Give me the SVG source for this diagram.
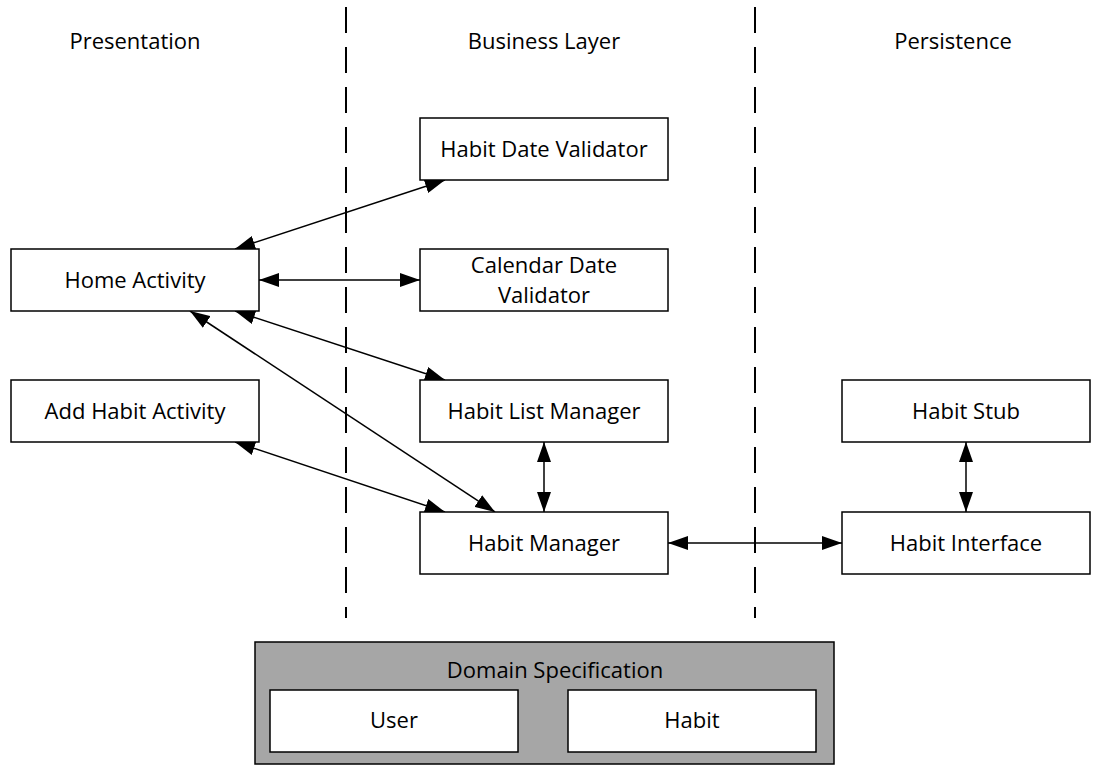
<svg xmlns="http://www.w3.org/2000/svg" width="1102" height="771" viewBox="0 0 1102 771">
<style>
.box{fill:#fff;stroke:#000;stroke-width:1.5}
.t{font-family:"Open Sans","Liberation Sans",sans-serif;font-size:22px;fill:#000;text-anchor:middle;dominant-baseline:central}
.c{stroke:#000;stroke-width:1.5;fill:none;marker-start:url(#a);marker-end:url(#a)}
.d{stroke:#000;stroke-width:2;stroke-dasharray:26 14;fill:none}
</style>
<defs>
<marker id="a" viewBox="0 0 20 14" refX="20" refY="7" markerWidth="20" markerHeight="14" markerUnits="userSpaceOnUse" orient="auto-start-reverse">
<path d="M0,0 L20,7 L0,14 Z" fill="#000"/>
</marker>
</defs>
<rect width="1102" height="771" fill="#fff"/>
<g id="lanes">
<line class="d" x1="346" y1="7" x2="346" y2="618"/>
<line class="d" x1="755" y1="7" x2="755" y2="618"/>
<text class="t" x="135" y="40">Presentation</text>
<text class="t" x="544" y="40">Business Layer</text>
<text class="t" x="953" y="40">Persistence</text>
</g>
<g id="connectors">
<line class="c" x1="235" y1="249" x2="445" y2="180"/>
<line class="c" x1="259" y1="280" x2="420" y2="280"/>
<line class="c" x1="235" y1="311" x2="445" y2="380"/>
<line class="c" x1="190" y1="311" x2="495" y2="512"/>
<line class="c" x1="235" y1="442" x2="445" y2="512"/>
<line class="c" x1="544" y1="442" x2="544" y2="512"/>
<line class="c" x1="668" y1="543" x2="842" y2="543"/>
<line class="c" x1="966" y1="442" x2="966" y2="512"/>
</g>
<g id="habit-date-validator"><rect class="box" x="420" y="118" width="248" height="62"/><text class="t" x="544" y="148">Habit Date Validator</text></g>
<g id="calendar-date-validator"><rect class="box" x="420" y="249" width="248" height="62"/><text class="t" x="544" y="264">Calendar Date</text><text class="t" x="544" y="294">Validator</text></g>
<g id="habit-list-manager"><rect class="box" x="420" y="380" width="248" height="62"/><text class="t" x="544" y="410">Habit List Manager</text></g>
<g id="habit-manager"><rect class="box" x="420" y="512" width="248" height="62"/><text class="t" x="544" y="542">Habit Manager</text></g>
<g id="home-activity"><rect class="box" x="11" y="249" width="248" height="62"/><text class="t" x="135" y="279">Home Activity</text></g>
<g id="add-habit-activity"><rect class="box" x="11" y="380" width="248" height="62"/><text class="t" x="135" y="410">Add Habit Activity</text></g>
<g id="habit-stub"><rect class="box" x="842" y="380" width="248" height="62"/><text class="t" x="966" y="410">Habit Stub</text></g>
<g id="habit-interface"><rect class="box" x="842" y="512" width="248" height="62"/><text class="t" x="966" y="542">Habit Interface</text></g>
<g id="domain-specification">
<rect x="255" y="642" width="579" height="122" fill="#a6a6a6" stroke="#000" stroke-width="1.5"/>
<text class="t" x="555" y="669">Domain Specification</text>
<g id="user"><rect class="box" x="270" y="690" width="248" height="62"/><text class="t" x="394" y="719">User</text></g>
<g id="habit"><rect class="box" x="568" y="690" width="248" height="62"/><text class="t" x="692" y="719">Habit</text></g>
</g>
</svg>
